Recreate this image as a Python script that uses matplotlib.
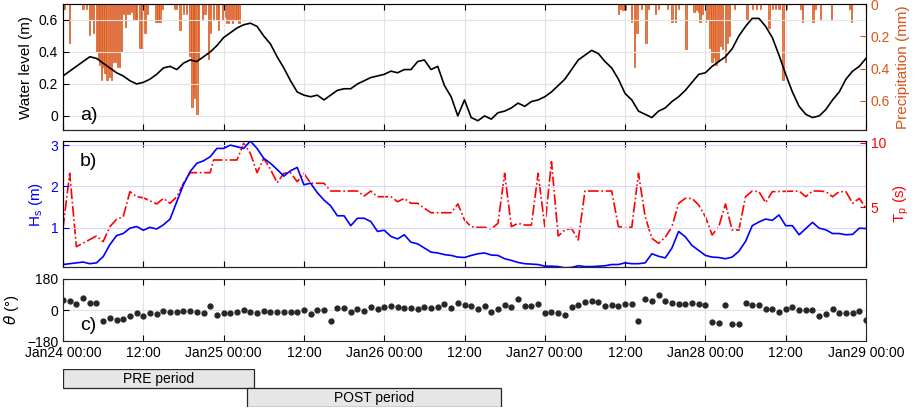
import numpy as np
import matplotlib
matplotlib.use('Agg')
import matplotlib.pyplot as plt

plt.rcParams['font.family'] = ['Liberation Sans', 'DejaVu Sans']
plt.rcParams['font.size'] = 10
plt.rcParams['xtick.direction'] = 'in'
plt.rcParams['ytick.direction'] = 'in'

# time axis in hours since Jan24 00:00
tick_hours = [0, 12, 24, 36, 48, 60, 72, 84, 96, 108, 120]
tick_labels = ['Jan24 00:00', '12:00', 'Jan25 00:00', '12:00', 'Jan26 00:00', '12:00',
               'Jan27 00:00', '12:00', 'Jan28 00:00', '12:00', 'Jan29 00:00']

# water level (m), hourly
wl_hour = list(range(121))
wl = [0.25, 0.28, 0.31, 0.34, 0.37, 0.36, 0.33, 0.30, 0.27, 0.25, 0.22, 0.20, 0.21,
      0.23, 0.26, 0.30, 0.31, 0.29, 0.33, 0.35, 0.34, 0.37, 0.40, 0.44, 0.49, 0.52,
      0.55, 0.57, 0.58, 0.56, 0.50, 0.45, 0.37, 0.30, 0.22, 0.15, 0.13, 0.12, 0.13,
      0.10, 0.13, 0.16, 0.17, 0.17, 0.20, 0.22, 0.24, 0.25, 0.26, 0.28, 0.27, 0.29,
      0.29, 0.34, 0.35, 0.29, 0.31, 0.19, 0.12, 0.00, 0.10, -0.01, -0.03, 0.00, -0.02,
      0.02, 0.03, 0.05, 0.08, 0.06, 0.09, 0.10, 0.12, 0.15, 0.19, 0.23, 0.29, 0.35,
      0.38, 0.41, 0.39, 0.34, 0.30, 0.23, 0.14, 0.10, 0.03, 0.01, -0.01, 0.03, 0.05,
      0.09, 0.12, 0.16, 0.21, 0.26, 0.27, 0.31, 0.34, 0.37, 0.42, 0.50, 0.56, 0.61,
      0.61, 0.56, 0.49, 0.38, 0.26, 0.15, 0.06, 0.01, -0.01, 0.00, 0.04, 0.10, 0.15,
      0.23, 0.28, 0.31, 0.36]

# precipitation (mm)
p_hour = [0.0, 0.2, 1.0, 3.0, 3.5, 4.0, 4.3, 4.6, 5.0, 5.3, 5.5, 5.8, 6.0, 6.3, 6.6,
          6.9, 7.2, 7.5, 7.8, 8.1, 8.4, 8.7, 9.0, 9.3, 9.6, 9.9, 10.2, 10.5, 10.8, 11.0,
          11.5, 11.8, 12.0, 12.3, 12.6, 13.9, 14.2, 14.5, 14.8, 16.7, 17.0, 17.5, 18.0,
          18.5, 19.0, 19.3, 19.5, 19.7, 20.0, 20.2, 20.8, 21.2, 21.7, 22.0, 22.5, 23.0,
          23.2, 23.8, 24.1, 24.4, 24.7, 25.0, 25.3, 25.7, 26.0, 26.3,
          83.0, 83.3, 83.7, 84.0, 85.0, 85.4, 85.8, 86.5, 87.1, 87.5, 88.5, 89.0, 90.3,
          91.0, 91.5, 92.0, 93.1, 94.3, 94.7, 95.0, 95.2, 95.5, 96.0, 96.3, 96.7, 97.0,
          97.3, 97.6, 98.0, 98.3, 98.6, 99.0, 99.3, 99.6, 100.3, 102.2, 103.0, 103.6,
          104.2, 105.5, 106.0, 106.5, 107.0, 107.6, 108.1, 110.3, 110.5, 112.1, 112.4,
          113.2, 114.8, 117.6, 117.8]
p_mm = [0.03, 0.03, 0.24, 0.03, 0.03, 0.19, 0.10, 0.18, 0.30, 0.34, 0.38, 0.47, 0.39,
        0.43, 0.47, 0.45, 0.47, 0.36, 0.36, 0.39, 0.39, 0.30, 0.06, 0.14, 0.06, 0.06,
        0.05, 0.09, 0.10, 0.10, 0.27, 0.27, 0.18, 0.18, 0.06, 0.11, 0.11, 0.11, 0.03,
        0.03, 0.03, 0.16, 0.06, 0.06, 0.32, 0.64, 0.52, 0.58, 0.68, 0.34, 0.09, 0.06,
        0.34, 0.18, 0.09, 0.09, 0.16, 0.10, 0.08, 0.12, 0.12, 0.10, 0.12, 0.09, 0.09,
        0.12,
        0.06, 0.03, 0.04, 0.04, 0.11, 0.39, 0.18, 0.03, 0.24, 0.03, 0.06, 0.03, 0.03,
        0.11, 0.11, 0.03, 0.28, 0.05, 0.04, 0.05, 0.11, 0.06, 0.11, 0.09, 0.27, 0.36,
        0.33, 0.38, 0.35, 0.26, 0.28, 0.36, 0.24, 0.20, 0.03, 0.09, 0.03, 0.03,
        0.03, 0.15, 0.03, 0.03, 0.03, 0.47, 0.03, 0.03, 0.11, 0.11, 0.03,
        0.09, 0.09, 0.03, 0.11]

# significant wave height (m), hourly
hs = [0.11, 0.13, 0.15, 0.17, 0.13, 0.15, 0.30, 0.59, 0.81, 0.86, 0.99, 1.03, 0.94,
      1.01, 0.97, 1.07, 1.21, 1.63, 2.04, 2.36, 2.56, 2.62, 2.72, 2.92, 2.92, 3.00,
      2.96, 2.92, 3.10, 2.92, 2.68, 2.56, 2.41, 2.25, 2.38, 2.46, 2.04, 2.08, 1.85,
      1.67, 1.53, 1.29, 1.29, 1.05, 1.23, 1.23, 1.15, 0.91, 0.94, 0.79, 0.73, 0.83,
      0.65, 0.61, 0.51, 0.41, 0.39, 0.35, 0.33, 0.29, 0.28, 0.33, 0.37, 0.39, 0.34,
      0.33, 0.25, 0.21, 0.16, 0.13, 0.12, 0.11, 0.07, 0.07, 0.06, 0.03, 0.04, 0.08,
      0.06, 0.06, 0.07, 0.08, 0.11, 0.11, 0.15, 0.13, 0.13, 0.15, 0.37, 0.31, 0.27,
      0.51, 0.91, 0.78, 0.57, 0.45, 0.33, 0.29, 0.28, 0.25, 0.29, 0.43, 0.67, 1.05,
      1.14, 1.21, 1.18, 1.31, 1.05, 1.05, 0.83, 0.98, 1.13, 0.99, 0.95, 0.86, 0.86,
      0.83, 0.84, 0.99, 0.98]

# peak period (s)
tp_hour = [0, 1, 2, 5, 6, 7, 8, 9, 10, 11, 12, 14, 15, 16, 17, 18, 19, 20, 21, 22,
           22.5, 24, 26, 27, 28, 29, 30, 31, 32, 33, 34, 35, 36, 37, 38, 39, 40, 44,
           45, 46, 47, 49, 50, 51, 52, 53, 54, 55, 58, 59, 60, 61, 62, 63, 64, 65, 66,
           67, 68, 69, 70, 71, 72, 73, 74, 75, 76, 77, 78, 82, 83, 84, 85, 86, 87, 88,
           89, 90, 91, 92, 93, 94, 95, 96, 97, 98, 99, 100, 101, 102, 103, 104, 105,
           106, 110, 111, 112, 113, 114, 115, 116, 117, 118, 119, 120]
tp = [3.37, 7.63, 1.95, 2.78, 2.34, 3.50, 4.07, 4.27, 6.21, 5.82, 5.74, 5.26, 5.69,
      5.31, 5.82, 6.86, 7.68, 7.68, 7.68, 7.68, 8.66, 8.66, 8.66, 9.95, 9.18, 7.68,
      8.79, 7.94, 6.90, 7.63, 7.68, 6.98, 7.63, 6.86, 6.86, 6.86, 6.26, 6.26, 5.87,
      6.26, 5.82, 5.82, 5.43, 5.69, 5.31, 5.31, 4.92, 4.58, 4.58, 5.26, 4.02, 3.50,
      3.45, 3.45, 3.32, 3.76, 7.63, 3.50, 3.76, 3.63, 3.63, 7.63, 3.50, 8.53, 2.78,
      3.24, 3.37, 2.47, 6.26, 6.26, 3.50, 3.45, 3.45, 7.63, 4.27, 2.60, 2.21, 2.68,
      3.50, 5.31, 5.69, 5.69, 5.18, 4.27, 2.86, 3.50, 5.26, 3.24, 3.24, 5.82, 6.26,
      6.21, 5.36, 6.21, 6.26, 5.82, 6.26, 6.26, 6.21, 5.82, 6.21, 6.21, 5.31, 5.69,
      4.92]

# wave direction (deg), hourly
theta = [60, 52, 37, 72, 42, 42, -66, -48, -58, -54, -32, -19, -32, -17, -22, -7,
         -12, -12, -3, -3, -9, -15, 21, -30, -19, -19, -12, 0, -12, -19, -7, -12,
         -12, -12, -12, -12, 0, -26, 0, 2, -62, 13, 13, -12, 5, -7, 16, 7, 16, 21,
         16, 13, 11, 6, 16, 13, 18, 32, 13, 42, 31, 22, 7, 21, -13, 3, 27, 17, 62,
         22, 22, 32, -19, -13, -19, -27, 17, 31, 46, 52, 46, 21, 31, 22, 37, 32, -66,
         62, 50, 86, 50, 42, 32, 32, 42, 32, 31, -72, -75, 27, -81, -81, 38, 31, 31,
         3, 3, -9, 3, 16, 0, 0, 0, -36, -22, 7, -19, -17, -19, -3, -58]

# analysis periods (hours)
period_names = ['PRE period', 'POST period']
period_start = [0.0, 27.5]
period_end = [28.5, 65.5]

orange = '#D95319'
grid_c = '#E3E3E3'
dark = '#262626'

fig = plt.figure(figsize=(9.18, 4.11), dpi=100)
L, W = 63 / 918, 803 / 918
axa = fig.add_axes([L, 1 - 130 / 411, W, 126 / 411])
axb = fig.add_axes([L, 1 - 267 / 411, W, 126 / 411])
axc = fig.add_axes([L, 1 - 341 / 411, W, 62 / 411])
axp = fig.add_axes([L, 1 - 407 / 411, W, 38 / 411])

# ---- a) water level + precipitation
axa2 = axa.twinx()
axa2.bar(p_hour, p_mm, width=0.2, color='#E8804A', edgecolor=orange, linewidth=0.5)
axa2.set_ylim(0.78, 0)
axa2.set_yticks([0, 0.2, 0.4, 0.6])
axa2.set_yticklabels(['0', '0.2', '0.4', '0.6'])
axa2.set_ylabel('Precipitation (mm)', color=orange, fontsize=11)
axa2.tick_params(axis='y', colors=orange, labelsize=10)
axa.set_zorder(axa2.get_zorder() + 1)
axa.patch.set_visible(False)
axa.plot(wl_hour, wl, color='k', lw=1.2)
axa.set_ylim(-0.088, 0.70)
axa.set_yticks([0, 0.2, 0.4, 0.6])
axa.set_yticklabels(['0', '0.2', '0.4', '0.6'])
axa.set_ylabel('Water level (m)', fontsize=11)
axa.text(2.5, 0.0, 'a)', fontsize=14, va='center')

# ---- b) Hs + Tp
axb2 = axb.twinx()
axb2.plot(tp_hour, tp, color='#FF0000', ls='-.', lw=1.2)
axb2.set_ylim(0.38, 10.13)
axb2.set_yticks([5, 10])
axb2.set_ylabel('T$_\\mathregular{p}$ (s)', color='#FF0000', fontsize=11)
axb2.tick_params(axis='y', colors='#FF0000', labelsize=10)
axb.set_zorder(axb2.get_zorder() + 1)
axb.patch.set_visible(False)
axb.plot(wl_hour, hs, color='#0000FF', lw=1.2)
axb.set_ylim(0.05, 3.1)
axb.set_yticks([1, 2, 3])
axb.set_ylabel('H$_\\mathregular{s}$ (m)', color='#0000FF', fontsize=11)
axb.tick_params(axis='y', colors='#0000FF')
axb.grid(axis='y', color='#D6D6FF', lw=0.8)
axb.text(2.5, 2.6, 'b)', fontsize=14, va='center')

# ---- c) direction
axc.plot(wl_hour, theta, 'o', color=dark, ms=3.5)
axc.set_ylim(-180, 180)
axc.set_yticks([-180, 0, 180])
axc.set_ylabel('$\\theta$ (°)', fontsize=11)
axc.grid(axis='y', color=grid_c, lw=0.8)
axc.text(2.5, -90, 'c)', fontsize=14, va='center')

for ax in [axa, axb, axc]:
    ax.set_xlim(0, 120)
    ax.set_xticks(tick_hours)
    ax.grid(axis='x', color=grid_c, lw=0.8)
    ax.tick_params(top=True, length=4, labelsize=10)
    ax.set_axisbelow(True)
    if ax is not axc:
        ax.set_xticklabels([])
axa.grid(axis='y', color=grid_c, lw=0.8)
axc.set_xticklabels(tick_labels)
for ax in [axa2, axb2]:
    ax.set_xlim(0, 120)
    ax.tick_params(length=4)

for s in axc.spines.values():
    s.set_color(dark)
axa.spines['bottom'].set_color(dark)
axa2.spines['right'].set_color(orange)
axa2.spines['top'].set_color('#B4623A')
axb.spines['bottom'].set_color(dark)
axb2.spines['left'].set_color('#0000FF')
axb2.spines['right'].set_color('#FF0000')
axb2.spines['top'].set_color('#4A4A8A')

# ---- periods
axp.set_xlim(0, 120)
axp.set_ylim(0, 2)
axp.axis('off')
for i, name in enumerate(period_names):
    yc = 1.5 - i
    axp.barh(yc, period_end[i] - period_start[i], left=period_start[i], height=0.95,
             color='#E6E6E6', edgecolor=dark, linewidth=0.9)
    axp.text((period_start[i] + period_end[i]) / 2, yc, name, ha='center',
             va='center', fontsize=10)

fig.savefig('out.png', dpi=100)
